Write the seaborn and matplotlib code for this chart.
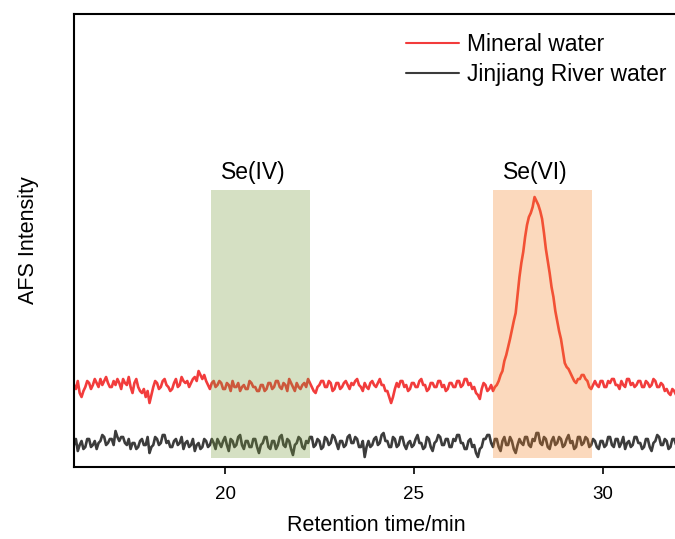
import numpy as np
import matplotlib
matplotlib.use('Agg')
import matplotlib.pyplot as plt
import seaborn as sns

# retention time grid (min), 0.05 min steps
time_min = np.round(np.arange(16.0, 32.001, 0.05), 2)

# AFS signal, arbitrary units, one row per minute
mineral = [82, 78, 86, 74, 70, 76, 80, 86, 84, 78, 82, 88, 84, 80, 88, 82, 86, 90, 84, 80,
           80, 86, 82, 88, 84, 78, 88, 84, 82, 90, 80, 74, 84, 88, 80, 76, 74, 78, 70, 76,
           64, 72, 80, 86, 84, 78, 80, 86, 88, 82, 80, 76, 78, 84, 88, 80, 82, 90, 86, 84,
           86, 80, 84, 88, 90, 86, 96, 92, 88, 92, 86, 82, 78, 84, 86, 80, 82, 86, 84, 78,
           78, 84, 82, 76, 86, 80, 80, 84, 76, 80, 82, 78, 78, 86, 84, 80, 80, 76, 76, 82,
           82, 76, 78, 84, 84, 78, 80, 86, 86, 80, 78, 84, 82, 76, 88, 84, 80, 76, 84, 80,
           78, 82, 84, 80, 88, 84, 80, 76, 74, 80, 82, 86, 86, 80, 80, 86, 84, 76, 78, 84,
           84, 78, 80, 84, 86, 82, 78, 84, 82, 86, 88, 82, 80, 76, 84, 80, 78, 84, 86, 82,
           80, 84, 88, 82, 82, 76, 76, 70, 64, 70, 78, 84, 80, 86, 86, 80, 82, 76, 78, 84,
           84, 80, 80, 86, 88, 82, 82, 76, 78, 84, 84, 80, 80, 86, 86, 80, 82, 76, 78, 84,
           84, 80, 80, 86, 86, 80, 82, 88, 88, 82, 84, 78, 80, 74, 72, 68, 78, 84, 82, 76,
           78, 82, 76, 80, 82, 86, 92, 96, 106, 112, 120, 128, 137, 146, 154, 172, 190, 204, 215, 230,
           242, 250, 254, 260, 270, 266, 262, 256, 248, 234, 218, 206, 194, 180, 170, 156, 146, 136, 128, 116,
           104, 100, 98, 94, 90, 86, 84, 88, 88, 92, 92, 88, 86, 80, 78, 82, 86, 82, 80, 86,
           86, 80, 80, 86, 84, 88, 88, 82, 82, 78, 86, 82, 80, 88, 88, 82, 84, 80, 82, 86,
           86, 80, 80, 86, 84, 80, 82, 88, 86, 80, 80, 84, 82, 76, 78, 74, 72, 78, 76, 72,
           70]
jinjiang = [22, 28, 16, 22, 26, 18, 20, 28, 28, 20, 22, 26, 18, 24, 26, 32, 30, 22, 24, 28,
            28, 22, 36, 30, 26, 30, 30, 24, 22, 28, 18, 24, 24, 18, 20, 26, 28, 22, 22, 30,
            14, 20, 22, 30, 28, 22, 24, 32, 32, 24, 26, 20, 20, 26, 28, 22, 24, 30, 18, 24,
            26, 20, 22, 28, 16, 22, 24, 18, 20, 28, 26, 20, 22, 28, 24, 18, 28, 24, 20, 26,
            30, 22, 16, 28, 26, 20, 22, 30, 32, 22, 18, 26, 26, 20, 20, 28, 28, 20, 14, 22,
            24, 30, 30, 20, 18, 26, 26, 18, 22, 30, 32, 22, 20, 28, 26, 18, 12, 22, 24, 30,
            28, 20, 18, 26, 24, 30, 30, 20, 22, 28, 26, 18, 20, 30, 28, 22, 24, 32, 30, 24,
            18, 26, 26, 20, 22, 30, 32, 24, 24, 30, 28, 20, 20, 26, 10, 20, 26, 20, 22, 28,
            30, 22, 24, 32, 34, 26, 26, 20, 20, 30, 28, 20, 22, 30, 30, 22, 18, 24, 26, 20,
            22, 28, 32, 24, 24, 18, 20, 30, 28, 20, 16, 24, 26, 32, 30, 22, 22, 28, 28, 20,
            20, 28, 26, 32, 32, 24, 24, 18, 18, 26, 28, 20, 22, 14, 10, 18, 20, 28, 28, 32,
            32, 24, 20, 28, 28, 20, 16, 26, 30, 22, 22, 30, 26, 18, 14, 22, 28, 24, 22, 30,
            30, 22, 20, 28, 26, 34, 34, 24, 22, 30, 28, 20, 18, 26, 30, 22, 24, 30, 28, 20,
            22, 28, 32, 24, 26, 18, 20, 30, 30, 22, 24, 30, 28, 20, 22, 28, 26, 20, 18, 26,
            26, 20, 22, 30, 30, 22, 20, 28, 28, 20, 24, 30, 18, 24, 26, 20, 22, 30, 30, 24,
            24, 18, 20, 28, 28, 20, 16, 24, 26, 32, 30, 22, 22, 28, 26, 18, 20, 28, 28, 22,
            24]

# shaded retention windows
span_labels = ['Se(IV)', 'Se(VI)']
span_start = [19.63, 27.09]
span_end = [22.26, 29.71]
span_label_x = [20.75, 28.23]
span_colors = ['#769a3a', '#f58426']

sns.set_style('ticks')
plt.rcParams['font.family'] = ['Liberation Sans', 'DejaVu Sans']
plt.rcParams['text.color'] = 'black'
plt.rcParams['axes.labelcolor'] = 'black'
plt.rcParams['xtick.color'] = 'black'
plt.rcParams['axes.edgecolor'] = 'black'

fig = plt.figure(figsize=(6.75, 5.39), dpi=100)
ax = fig.add_axes([74/675, 72/539, 604/675, 453/539])

sns.lineplot(x=time_min, y=mineral, ax=ax, color='#f23c3c',
             linewidth=1.9, label='Mineral water')
sns.lineplot(x=time_min, y=jinjiang, ax=ax, color='#3c3c3c',
             linewidth=1.9, label='Jinjiang River water')

for lab, x0, x1, xl, c in zip(span_labels, span_start, span_end,
                              span_label_x, span_colors):
    ax.fill_between([x0, x1], 9, 277, color=c, alpha=0.3,
                    linewidth=0, zorder=3)
    ax.text(xl, 283, lab, ha='center', va='bottom', fontsize=16.5)

ax.set_xlim(16, 32)
ax.set_ylim(0, 453)
ax.set_xticks([20, 25, 30])
ax.set_yticks([])
ax.tick_params(axis='x', labelsize=13.5, length=5, width=1.2,
               direction='out', pad=9)
ax.set_xlabel('Retention time/min', fontsize=15.5, labelpad=8)
ax.set_ylabel('AFS Intensity', fontsize=15.5, labelpad=25)
for s in ax.spines.values():
    s.set_linewidth(1.5)

leg = ax.legend(loc='upper left', frameon=False, fontsize=16.5,
                handlelength=2.3, handletextpad=0.35, labelspacing=0.28,
                borderaxespad=0, bbox_to_anchor=(397/675, 1 - 24/539),
                bbox_transform=fig.transFigure)
for h in leg.get_lines():
    h.set_linewidth(1.5)

fig.savefig('out.png', dpi=100)
